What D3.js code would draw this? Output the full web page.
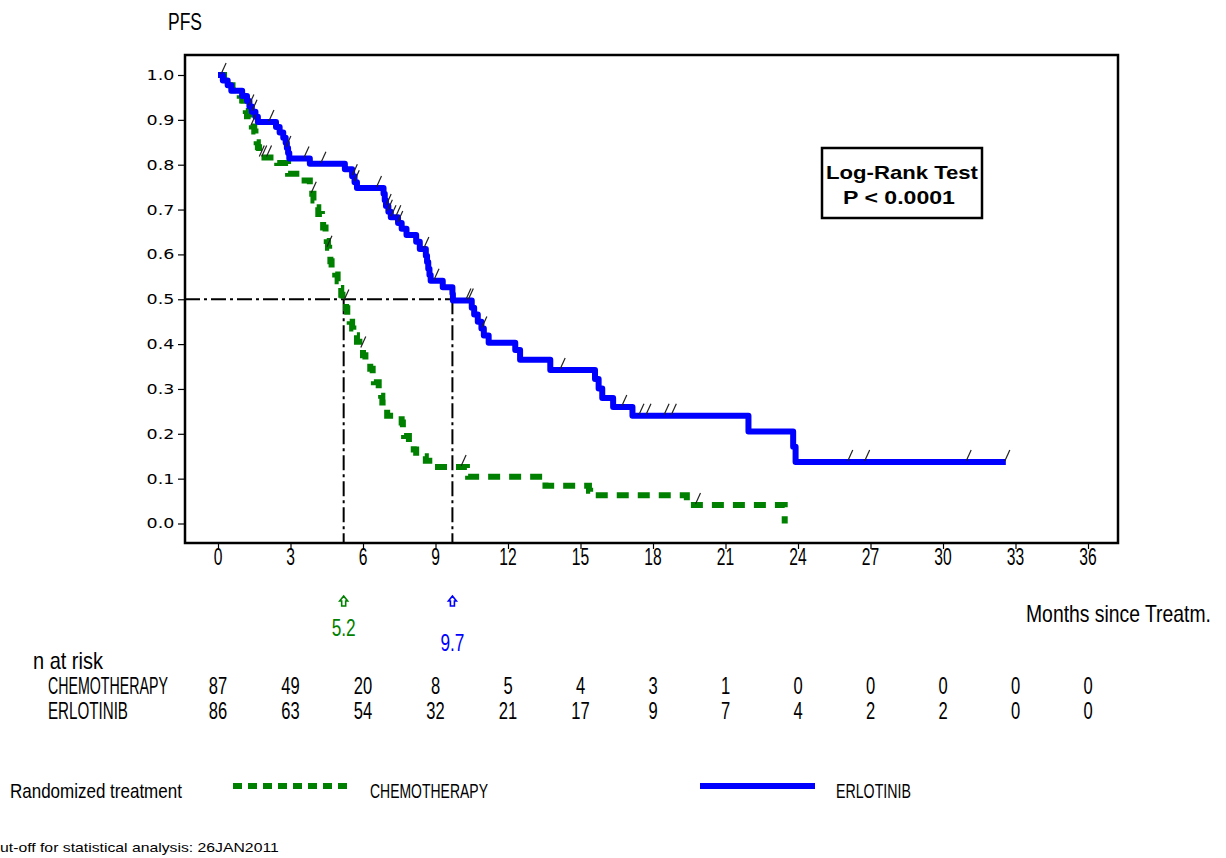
<!DOCTYPE html>
<html>
<head>
<meta charset="utf-8">
<script src="https://cdn.jsdelivr.net/npm/d3@7"></script>
<style>
  body { margin: 0; background: #fff; }
  svg { display: block; }
</style>
</head>
<body>
<div id="chart"></div>
<script>
// ---- data ----
const xTicks = [0, 3, 6, 9, 12, 15, 18, 21, 24, 27, 30, 33, 36];
const yTicks = [0, 0.1, 0.2, 0.3, 0.4, 0.5, 0.6, 0.7, 0.8, 0.9, 1.0];

// chemotherapy KM steps (month, survival after the step)
const chemoTime = [0, 0.25, 0.6, 0.9, 1.0, 1.05, 1.15, 1.2, 1.35, 1.4, 1.5, 1.55, 1.6, 1.65, 1.7, 1.75,
  2.45, 2.9, 3.4, 3.8, 3.9, 3.95, 4.05, 4.15, 4.3, 4.35, 4.45, 4.5, 4.55, 4.6, 4.65, 4.7, 4.85, 4.95,
  5.05, 5.1, 5.15, 5.3, 5.35, 5.45, 5.55, 5.6, 5.75, 5.85, 6.0, 6.1, 6.3, 6.4, 6.45, 6.65, 6.75, 6.8,
  7.0, 7.6, 7.65, 7.7, 7.9, 8.1, 8.2, 8.6, 8.95, 10.3, 10.35, 13.5, 13.55, 15.35, 15.4, 19.4, 19.45, 23.45];
const chemoSurv = [1.0, 0.977, 0.966, 0.954, 0.943, 0.931, 0.92, 0.908, 0.897, 0.885, 0.874, 0.862, 0.85, 0.839, 0.827, 0.816,
  0.804, 0.78, 0.765, 0.75, 0.735, 0.72, 0.705, 0.69, 0.675, 0.66, 0.645, 0.63, 0.615, 0.6, 0.585, 0.57, 0.555, 0.54,
  0.525, 0.51, 0.495, 0.48, 0.465, 0.45, 0.435, 0.42, 0.405, 0.39, 0.375, 0.36, 0.345, 0.33, 0.315, 0.3, 0.285, 0.27,
  0.24, 0.225, 0.21, 0.195, 0.18, 0.165, 0.15, 0.14, 0.126, 0.115, 0.104, 0.093, 0.084, 0.073, 0.063, 0.052, 0.041, 0.0];
const chemoCensor = [1.4, 1.75, 1.85, 2.05, 3.9, 4.55, 5.25, 5.95, 10.1, 19.8];

// erlotinib KM steps
const erlotTime = [0, 0.2, 0.4, 0.55, 1.0, 1.2, 1.3, 1.4, 1.55, 1.65, 2.4, 2.55, 2.7, 2.8, 2.85, 2.9, 2.95,
  3.8, 5.25, 5.55, 5.65, 5.75, 6.85, 6.9, 6.95, 7.05, 7.15, 7.45, 7.6, 7.8, 8.2, 8.35, 8.6, 8.65, 8.7, 8.75,
  8.8, 9.3, 9.7, 9.72, 10.5, 10.6, 10.75, 10.9, 11.0, 11.2, 12.3, 12.5, 13.75, 15.6, 15.75, 15.9, 16.35,
  17.15, 21.95, 23.8, 23.9, 32.6];
const erlotSurv = [1.0, 0.988, 0.977, 0.965, 0.953, 0.942, 0.93, 0.918, 0.907, 0.895, 0.884, 0.872, 0.86, 0.849, 0.837, 0.826, 0.814,
  0.802, 0.79, 0.774, 0.761, 0.748, 0.735, 0.721, 0.708, 0.695, 0.683, 0.67, 0.657, 0.643, 0.628, 0.612, 0.597, 0.583, 0.568, 0.554,
  0.541, 0.527, 0.512, 0.497, 0.481, 0.466, 0.45, 0.435, 0.419, 0.403, 0.387, 0.365, 0.342, 0.322, 0.301, 0.28, 0.26,
  0.24, 0.205, 0.171, 0.137, 0.137];
const erlotCensor = [0.17, 1.32, 1.45, 2.15, 2.85, 3.6, 4.3, 5.6, 5.68, 6.6, 7.0, 7.05, 7.2, 7.4, 7.48, 8.56, 8.98,
  10.3, 10.4, 10.96, 14.2, 16.75, 17.46, 17.75, 18.5, 18.8, 26.1, 26.8, 31.0, 32.6];

const medianChemo = 5.2;
const medianErlot = 9.7;

const riskChemo = [87, 49, 20, 8, 5, 4, 3, 1, 0, 0, 0, 0, 0];
const riskErlot = [86, 63, 54, 32, 21, 17, 9, 7, 4, 2, 2, 0, 0];

// ---- layout ----
const width = 1226, height = 858;
const frame = { left: 185, top: 55, right: 1118, bottom: 543 };
const green = '#008000', blue = '#0000ff';
const narrowFont = "'Liberation Sans', Arial, sans-serif";

const svg = d3.select('#chart').append('svg')
  .attr('width', width)
  .attr('height', height);

const x = d3.scaleLinear().domain([0, 36]).range([218, 1088]);
const y = d3.scaleLinear().domain([0, 1]).range([523.5, 75]);

// tall condensed text, like the plotter font of the original.
// with o.len the text is squeezed (by transform) to that width
function ntext(g, px, py, str, o = {}) {
  const t = g.append('text')
    .attr('text-anchor', o.anchor || 'start')
    .attr('font-family', o.family || narrowFont)
    .attr('font-size', o.size || 23)
    .attr('font-weight', o.weight || 'normal')
    .attr('fill', o.fill || '#000')
    .text(str);
  let sx = o.sx || 0.68;
  if (o.len) {
    const w = t.node().getComputedTextLength();
    if (w > 0) sx = o.len / w;
  }
  t.attr('transform', `translate(${px},${py}) scale(${sx},1)`);
  return t;
}

// frame
svg.append('rect')
  .attr('x', frame.left).attr('y', frame.top)
  .attr('width', frame.right - frame.left)
  .attr('height', frame.bottom - frame.top)
  .attr('fill', 'none').attr('stroke', '#000').attr('stroke-width', 2.5);

// y axis
const yAxis = svg.append('g')
  .attr('transform', `translate(${frame.left},0)`)
  .call(d3.axisLeft(y).tickValues(yTicks).tickFormat(d3.format('.1f')).tickSize(7).tickPadding(10));
yAxis.select('.domain').remove();
yAxis.selectAll('line').attr('stroke', '#000').attr('stroke-width', 1.2);
yAxis.selectAll('text')
  .attr('font-family', "'DejaVu Sans', sans-serif")
  .attr('font-size', 14)
  .attr('fill', '#000')
  .attr('x', -8.5)
  .attr('transform', 'scale(1.25,1)');

// x axis (ticks only, labels drawn condensed)
const xAxis = svg.append('g')
  .attr('transform', `translate(0,${frame.bottom})`)
  .call(d3.axisBottom(x).tickValues(xTicks).tickSize(6).tickFormat(''));
xAxis.select('.domain').remove();
xAxis.selectAll('line').attr('stroke', '#000').attr('stroke-width', 1.2);
xTicks.forEach(t => ntext(svg, x(t), 565, t, { anchor: 'middle' }));

// titles
ntext(svg, 168, 30, 'PFS', { len: 34 });
ntext(svg, 1026, 622, 'Months since Treatm.', { len: 185 });

// median reference lines
const refLines = svg.append('g')
  .attr('stroke', '#000').attr('stroke-width', 2)
  .attr('stroke-dasharray', '15,4,3,4').attr('fill', 'none');
refLines.append('line')
  .attr('x1', frame.left).attr('x2', x(medianErlot))
  .attr('y1', y(0.5)).attr('y2', y(0.5));
[medianChemo, medianErlot].forEach(m => {
  refLines.append('line')
    .attr('x1', x(m)).attr('x2', x(m))
    .attr('y1', y(0.5)).attr('y2', frame.bottom);
});

// KM curves
const line = d3.line()
  .x(d => x(d[0]))
  .y(d => y(d[1]))
  .curve(d3.curveStepAfter);

const chemoPts = chemoTime.map((t, i) => [t, chemoSurv[i]]);
const erlotPts = erlotTime.map((t, i) => [t, erlotSurv[i]]);

svg.append('path')
  .datum(chemoPts)
  .attr('d', line)
  .attr('fill', 'none')
  .attr('stroke', green)
  .attr('stroke-width', 6)
  .attr('stroke-dasharray', '12,9');

svg.append('path')
  .datum(erlotPts)
  .attr('d', line)
  .attr('fill', 'none')
  .attr('stroke', blue)
  .attr('stroke-width', 6)
  .attr('stroke-linejoin', 'round');

// censor marks
function survAt(times, surv, t) {
  let s = surv[0];
  for (let i = 0; i < times.length; i++) {
    if (times[i] <= t) s = surv[i];
  }
  return s;
}
const marks = svg.append('g').attr('stroke', '#222').attr('stroke-width', 1.2);
function drawCensors(list, times, surv) {
  list.forEach(t => {
    const px = x(t), py = y(survAt(times, surv, t));
    marks.append('line')
      .attr('x1', px - 1).attr('y1', py - 1)
      .attr('x2', px + 4).attr('y2', py - 12);
  });
}
drawCensors(chemoCensor, chemoTime, chemoSurv);
drawCensors(erlotCensor, erlotTime, erlotSurv);

// log-rank box
svg.append('rect')
  .attr('x', 822).attr('y', 148).attr('width', 160).attr('height', 70)
  .attr('fill', '#fff').attr('stroke', '#000').attr('stroke-width', 2.5);
const boxFont = { anchor: 'middle', family: "'Liberation Sans', Arial, sans-serif", weight: 'bold', size: 19 };
ntext(svg, 902, 179, 'Log-Rank Test', { ...boxFont, len: 152 });
ntext(svg, 899, 204, 'P < 0.0001', { ...boxFont, len: 112 });

// median arrows and values
function arrow(cx, top, color) {
  svg.append('path')
    .attr('d', `M${cx},${top} L${cx + 4},${top + 5} L${cx + 2},${top + 5} L${cx + 2},${top + 10} L${cx - 2},${top + 10} L${cx - 2},${top + 5} L${cx - 4},${top + 5} Z`)
    .attr('fill', '#fff').attr('stroke', color).attr('stroke-width', 1.6);
}
arrow(x(medianChemo), 596, green);
arrow(x(medianErlot), 596, blue);
ntext(svg, x(medianChemo), 636, d3.format('.1f')(medianChemo), { anchor: 'middle', fill: green, len: 24 });
ntext(svg, x(medianErlot), 651, d3.format('.1f')(medianErlot), { anchor: 'middle', fill: blue, len: 24 });

// number at risk
ntext(svg, 33, 669, 'n at risk', { len: 70 });
ntext(svg, 48, 694, 'CHEMOTHERAPY', { len: 120 });
ntext(svg, 48, 719, 'ERLOTINIB', { len: 80 });
riskChemo.forEach((n, i) => ntext(svg, x(xTicks[i]), 694, n, { anchor: 'middle', sx: 0.72 }));
riskErlot.forEach((n, i) => ntext(svg, x(xTicks[i]), 719, n, { anchor: 'middle', sx: 0.72 }));

// legend
ntext(svg, 10, 798, 'Randomized treatment', { len: 172, size: 21 });
svg.append('line')
  .attr('x1', 233).attr('x2', 350).attr('y1', 786).attr('y2', 786)
  .attr('stroke', green).attr('stroke-width', 6).attr('stroke-dasharray', '9,6');
ntext(svg, 370, 798, 'CHEMOTHERAPY', { len: 118, size: 21 });
svg.append('line')
  .attr('x1', 700).attr('x2', 815).attr('y1', 786).attr('y2', 786)
  .attr('stroke', blue).attr('stroke-width', 6);
ntext(svg, 836, 798, 'ERLOTINIB', { len: 75, size: 21 });

// footnote (left edge is cut off in the original)
ntext(svg, 0, 852, 'ut-off for statistical analysis: 26JAN2011', { size: 13, len: 279 });
</script>
</body>
</html>
